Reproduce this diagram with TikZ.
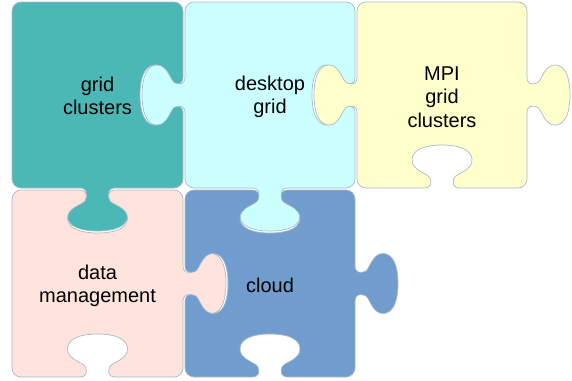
\documentclass[tikz,border=0pt]{standalone}
\usepackage{fontspec}
\setmainfont{Liberation Sans}
\usetikzlibrary{calc}
\definecolor{cteal}{HTML}{4BB8B6}
\definecolor{ccyan}{HTML}{CCFFFF}
\definecolor{cyell}{HTML}{FFFFCC}
\definecolor{cpink}{HTML}{FFE4DE}
\definecolor{cblue}{HTML}{709DCE}
\definecolor{cedge}{HTML}{A9BACB}
\tikzset{
  % side with a tab (k=1), a hole (k=-1) or flat (k=0)
  % #1,#2 centre of side, #3,#4 direction, #5,#6 outward normal, #7 k
  pside/.style n args={7}{insert path={
    -- ($({#1},{#2})+{-18}*(#3,#4)$)
    .. controls ($({#1},{#2})+{-11}*(#3,#4)$)
            and ($({#1},{#2})+{-10}*(#3,#4)+{5*(#7)}*(#5,#6)$)
    .. ($({#1},{#2})+{-12}*(#3,#4)+{10*(#7)}*(#5,#6)$)
    .. controls ($({#1},{#2})+{-14}*(#3,#4)+{15*(#7)}*(#5,#6)$)
            and ($({#1},{#2})+{-31}*(#3,#4)+{17*(#7)}*(#5,#6)$)
    .. ($({#1},{#2})+{-30}*(#3,#4)+{29*(#7)}*(#5,#6)$)
    .. controls ($({#1},{#2})+{-29}*(#3,#4)+{39*(#7)}*(#5,#6)$)
            and ($({#1},{#2})+{-16}*(#3,#4)+{43*(#7)}*(#5,#6)$)
    .. ($({#1},{#2})+{43*(#7)}*(#5,#6)$)
    .. controls ($({#1},{#2})+{16}*(#3,#4)+{43*(#7)}*(#5,#6)$)
            and ($({#1},{#2})+{29}*(#3,#4)+{39*(#7)}*(#5,#6)$)
    .. ($({#1},{#2})+{30}*(#3,#4)+{29*(#7)}*(#5,#6)$)
    .. controls ($({#1},{#2})+{31}*(#3,#4)+{17*(#7)}*(#5,#6)$)
            and ($({#1},{#2})+{14}*(#3,#4)+{15*(#7)}*(#5,#6)$)
    .. ($({#1},{#2})+{12}*(#3,#4)+{10*(#7)}*(#5,#6)$)
    .. controls ($({#1},{#2})+{10}*(#3,#4)+{5*(#7)}*(#5,#6)$)
            and ($({#1},{#2})+{11}*(#3,#4)$)
    .. ($({#1},{#2})+{18}*(#3,#4)$)
  }},
  % #1 x0, #2 y0, #3 x1, #4 y1, #5 top k, #6 right k, #7 bottom k, #8 left k
  piece/.style n args={8}{insert path={
    ({#1+9},{#2})
    [pside={(#1+#3)/2}{#2}{1}{0}{0}{-1}{#5}]
    -- ({#3-9},{#2}) .. controls ({#3-4},{#2}) and ({#3},{#2+4}) .. ({#3},{#2+9})
    [pside={#3}{(#2+#4)/2}{0}{1}{1}{0}{#6}]
    -- ({#3},{#4-9}) .. controls ({#3},{#4-4}) and ({#3-4},{#4}) .. ({#3-9},{#4})
    [pside={(#1+#3)/2}{#4}{-1}{0}{0}{1}{#7}]
    -- ({#1+9},{#4}) .. controls ({#1+4},{#4}) and ({#1},{#4-4}) .. ({#1},{#4-9})
    [pside={#1}{(#2+#4)/2}{0}{-1}{-1}{0}{#8}]
    -- ({#1},{#2+9}) .. controls ({#1},{#2+4}) and ({#1+4},{#2}) .. cycle
  }},
  edge/.style={draw=cedge, line width=0.7pt},
  lbl/.style={align=center, font=\fontsize{20}{23.5}\selectfont, text=black, inner sep=0pt},
}
\begin{document}
\begin{tikzpicture}[x=1pt,y=-1pt]
\useasboundingbox (0,0) rectangle (572,380);
\path[edge, fill=cteal] [piece={12}{2}{183}{188}{0}{-1}{1}{0}];
\path[edge, fill=ccyan] [piece={185}{2}{355}{188}{0}{-1}{1}{1}];
\path[edge, fill=cyell] [piece={357}{2}{527}{188}{0}{1}{-1}{1}];
\path[edge, fill=cpink] [piece={12}{190}{183}{377}{-1}{1}{-1}{0}];
\path[edge, fill=cblue] [piece={185}{190}{355}{377}{-1}{1}{-1}{-1}];
\node[lbl] (t1) at (97.5,95.8) {grid\\clusters};
\node[lbl] (t2) at (270,97) {desktop\\grid};
\node[lbl] (t3) at (442,97) {MPI\\grid\\clusters};
\node[lbl] (t4) at (97.5,285.8) {data\\management};
\node[lbl] (t5) at (270,285.3) {cloud};
\end{tikzpicture}
\end{document}
